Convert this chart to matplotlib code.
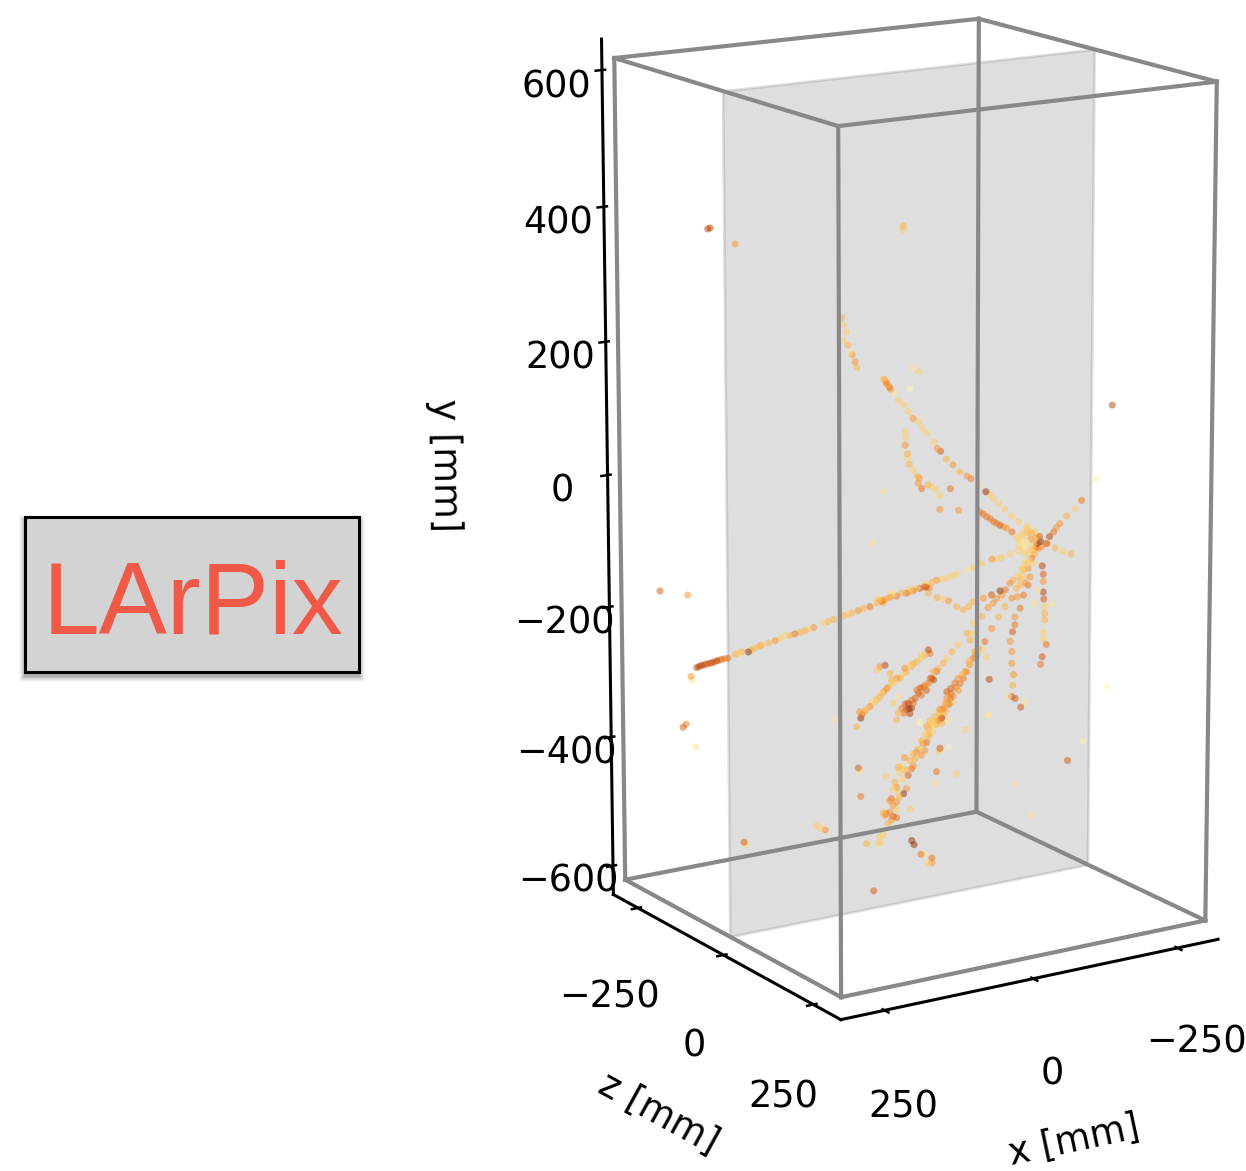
import numpy as np
import matplotlib
matplotlib.use('Agg')
import matplotlib.pyplot as plt
from matplotlib.patches import Rectangle
from mpl_toolkits.mplot3d.art3d import Poly3DCollection

W, H = 1246, 1171

# hits per track, x and y in mm, charge in tenths of the colour range
a_x = [327,323,319,315,311,306,302,298,294,290,286,280,275,263,255,252,241,236,230,222,219,207,196,188,179,171,163,154,146,140,131,114,106,97,80,72,66,55,46,35,23,18,15,6,0,-5,-11,-20,-28,-34,-40,-51,-63,-72,-80,-89,-98,-107,-115,-133,-144,-159,-177,-185,-194,-209,-224,20,11,12,-3,-34,-46,-60,-68]
a_y = [-227,-226,-225,-225,-224,-224,-224,-223,-222,-222,-221,-221,-221,-217,-216,-215,-217,-215,-213,-211,-210,-209,-207,-205,-202,-203,-202,-201,-200,-198,-197,-193,-192,-190,-187,-186,-185,-183,-181,-180,-176,-172,-175,-172,-171,-168,-171,-167,-169,-164,-167,-165,-165,-159,-157,-157,-156,-154,-153,-149,-147,-143,-139,-140,-139,-136,-133,-171,-174,-178,-165,-168,-164,-159,-167]
a_q = [8,8,8,7,8,7,8,7,8,6,7,6,6,4,3,4,9,4,4,4,4,4,5,3,3,4,6,4,4,3,5,3,4,4,4,3,4,5,4,6,4,4,6,4,5,3,6,4,6,3,6,7,7,4,5,3,3,3,3,2,3,3,5,3,3,3,3,3,5,4,2,4,3,3,5]
b_x = [60,56,51,54,49,44,36,27,19,11,2,-5,-12,-24,-30,-36,-46,-57,-69,-81,-88,-101,-114,-120,-127,-136,-147,-159,-171,-185]
b_y = [180,174,167,171,164,157,146,138,127,116,110,99,91,77,66,61,48,38,26,18,13,2,-10,-15,-22,-31,-41,-53,-63,-75]
b_q = [4,6,6,4,5,2,3,3,3,5,3,3,3,3,5,7,4,5,4,5,6,3,9,3,3,3,3,3,3,3]
c_x = [37,36,37,33,32,30,23,16,13,15,9,-2,-8,-15,-22,-40,-22,-54,74,92,14,29]
c_y = [104,95,84,71,65,55,45,35,32,25,16,20,16,11,1,9,-19,-25,21,-53,189,166]
c_q = [3,3,5,4,3,4,3,4,5,5,6,4,3,3,3,6,5,5,2,2,3,1]
d_x = [-110,-116,-122,-128,-134,-139,-145,-151,-157,-166]
d_y = [-42,-46,-51,-55,-60,-63,-67,-70,-73,-80]
d_q = [6,6,6,6,6,6,7,5,5,6]
e_x = [-181,-190,-199,-207,-216,-223,-210,-199,-193,-219,-205,-187,-213,-208,-196,-202,-203,-212,-186,-194,-217,-225,-184,-192,-199,-206,-213,-221,-209,-216,-202,-196,-190]
e_y = [-92,-88,-79,-90,-97,-105,-108,-102,-93,-115,-115,-100,-122,-128,-109,-120,-85,-100,-107,-118,-107,-113,-97,-106,-88,-99,-89,-97,-116,-112,-130,-134,-141]
e_q = [3,3,3,4,5,9,3,2,3,5,3,2,4,6,2,3,3,3,3,3,8,5,3,2,4,5,3,7,4,6,3,3,3]
f_x = [-214,-219,-226,-231,-237,-249,-263,-275]
f_y = [-100,-90,-84,-78,-73,-63,-54,-43]
f_q = [7,8,6,5,5,4,3,6]
g_x = [-214,-229,-243,-257]
g_y = [-100,-109,-116,-122]
g_q = [4,4,3,4]
h_x = [-213,-215,-215,-215,-216,-218,-218,-218,-216,-216,-221,-214,-211,-199,-230,-206]
h_y = [-136,-149,-160,-176,-187,-199,-209,-219,-237,-247,-257,-275,-286,-191,-197,-172]
h_q = [8,7,5,8,7,3,4,4,3,3,6,7,6,2,2,2]
i_x = [-204,-198,-195,-187,-181,-172,-172,-168,-164,-167,-167,-170,-169,-167,-173,-183,-191,-161,-176,-181,-190]
i_y = [-133,-153,-165,-179,-198,-210,-222,-232,-246,-262,-280,-298,-314,-331,-335,-350,-343,-330,-180,-163,-161]
i_q = [3,5,6,6,6,5,6,7,5,5,5,5,4,7,7,7,2,2,5,4,5]
j_x = [-193,-181,-173,-161,-150,-138,-126,-121,-129,-134,-112,-115,-109]
j_y = [-154,-170,-184,-195,-209,-225,-243,-255,-267,-302,-261,-252,-256]
j_q = [3,4,5,4,4,5,6,3,3,8,5,4,5]
k_x = [-194,-176,-159,-144,-130,-112,-104,-95,-83,-69,-60,-49,-34,-28,-147,-153,-162,-168,-182,-191,-200,-205,-208]
k_y = [-159,-164,-173,-177,-180,-183,-189,-192,-186,-175,-171,-167,-158,-148,-190,-184,-180,-173,-160,-154,-147,-138,-146]
k_q = [4,5,9,7,5,4,4,4,4,5,3,4,4,7,5,5,5,6,4,3,4,3,5]
l_x = [-151,-140,-125,-120,-122,-114,-99,-88,-79,-73,-64,-61,-56,-50,-56,-53,-47,-38,-44,-41,-30,-35,-33,-27,-18,-24,-12,-7,-9,-14,-18,-15,-21,5,-1,-5,8]
l_y = [-202,-214,-222,-247,-237,-236,-251,-260,-269,-275,-282,-286,-285,-295,-298,-295,-302,-306,-312,-304,-314,-318,-307,-309,-323,-321,-327,-327,-336,-335,-335,-343,-328,-339,-333,-341,-349]
l_q = [5,4,3,4,3,4,3,4,3,4,4,6,4,6,8,8,6,6,7,5,7,6,7,6,6,7,8,7,8,9,8,8,6,4,6,6,4]
m_x = [-122,-114,-111,-116,-108,-105,-102,-99,-96,-92,-90,-83,-76,-84,-96,-87,-76,-76,-82,-80,-73,-64,-70,-64,-55,-53,-61,-67,-48,-44,-41,-67,-58,-149,114]
m_y = [-274,-278,-293,-283,-292,-302,-296,-309,-301,-314,-307,-314,-318,-322,-319,-327,-328,-336,-329,-338,-335,-349,-343,-343,-353,-360,-359,-365,-362,-369,-365,-357,-366,-365,-330]
m_q = [6,4,5,5,5,6,4,6,5,5,6,7,7,6,5,5,5,5,6,6,4,4,6,5,4,3,5,4,3,4,4,8,3,2,2]
n_x = [-66,-69,-60,-54,-53,-46,-40,-37,-34,-28,-25,-20,-17,-11,-8,-5,-2,3,6,11,15,18,24,26,32,35,41,44,49,53,51,58,9,18,23,0,-14]
n_y = [-261,-267,-268,-267,-272,-276,-278,-282,-279,-289,-283,-292,-297,-296,-301,-303,-297,-307,-309,-313,-315,-320,-323,-326,-327,-332,-335,-338,-342,-337,-347,-359,-273,-274,-278,-287,-325]
n_q = [8,6,4,3,3,4,4,4,3,4,5,3,4,5,3,3,4,4,5,5,3,4,4,3,3,5,4,4,6,5,9,4,8,5,3,4,2]
o_x = [-90,-78,-81,-73,-64,-67,-61,-55,-50,-48,-47,-55,-41,-38,-35,-44,-41,-29,-26,-35,-21,-15,-24,-21,-6,-9,-18,-3,5,0,3,-3,-12,8,11,14,5,17,3,-4,-9,20,8,14,26,28,31,20,8,17,14,8,23,31,37,37,40,60]
o_y = [-338,-349,-364,-355,-349,-360,-366,-368,-360,-380,-384,-378,-379,-393,-388,-392,-404,-400,-404,-410,-406,-415,-414,-424,-409,-429,-428,-426,-422,-421,-430,-441,-437,-452,-444,-454,-460,-468,-468,-464,-457,-471,-475,-479,-490,-492,-488,-488,-487,-501,-496,-499,-505,-522,-523,-531,-534,-530]
o_q = [3,4,2,4,3,4,5,3,4,4,4,3,3,5,4,6,5,4,5,5,4,4,4,5,5,4,6,3,4,3,3,3,7,5,4,3,3,6,4,9,5,5,5,5,6,5,4,5,3,5,7,6,4,3,3,3,3,4]
p_x = [-12,-16,-28,-35,-47,-47,-41,54,80,78,76,33,-55,-90,-54,-61,-60,-76,-105,-9,274,272,152,146,137,-287,-192,-223,-146,20,-26]
p_y = [-535,-542,-559,-560,-568,-576,-575,-601,-408,-413,-452,-429,-436,-445,-454,-401,-406,-401,-380,-486,-488,-492,-484,-488,-493,-457,-478,-532,-364,-319,-356]
p_q = [9,9,6,2,6,5,3,7,7,2,6,3,6,3,2,7,3,1,3,3,7,2,3,3,5,7,2,2,2,3,1]
q_x = [15,15,118,116,111,116,108,101,96,93,105,46,0]
q_y = [395,389,273,262,251,240,232,217,206,197,221,173,185]
q_q = [4,3,4,3,3,3,4,5,5,4,2,4,2]
r_x = [246,250,205,278,289,294,299,335,283,285]
r_y = [391,390,363,-377,-146,-340,-344,-133,-275,-269]
r_q = [8,8,5,2,5,6,7,7,2,5]
s_x = [-246,-219,-241,-200]
s_y = [129,24,-292,-369]
s_q = [8,1,1,1]

track_x = [a_x,b_x,c_x,d_x,e_x,f_x,g_x,h_x,i_x,j_x,k_x,l_x,m_x,n_x,o_x,p_x,q_x,r_x,s_x]
track_y = [a_y,b_y,c_y,d_y,e_y,f_y,g_y,h_y,i_y,j_y,k_y,l_y,m_y,n_y,o_y,p_y,q_y,r_y,s_y]
track_q = [a_q,b_q,c_q,d_q,e_q,f_q,g_q,h_q,i_q,j_q,k_q,l_q,m_q,n_q,o_q,p_q,q_q,r_q,s_q]
track_z = [-60,20,40,10,0,30,30,20,10,0,-10,-30,-25,-60,-30,-20,0,-150,150]

box_x, box_z, box_y = 311, 307, 619
lim_x, lim_z, lim_y = 322, 324, 645
x_ticks = [-250, 0, 250]
z_ticks = [-250, 0, 250]
y_ticks = [-600, -400, -200, 0, 200, 400, 600]

plt.rcParams['font.family'] = 'DejaVu Sans'
for name in ['xtick', 'ytick']:
    plt.rcParams[name + '.major.width'] = 1.8

fig = plt.figure(figsize=(W/100, H/100), dpi=100)

# LArPix box with a soft shadow under it
for grow, alpha in [(6, 0.03), (5, 0.04), (4, 0.05), (3, 0.06), (2, 0.08), (1, 0.1)]:
    fig.add_artist(Rectangle(((25-grow)/W, 1-(672+grow+4)/H), (334+2*grow)/W, (155+2*grow)/H,
                             transform=fig.transFigure, fc='black', ec='none', alpha=alpha))
fig.add_artist(Rectangle((25/W, 1-672/H), 334/W, 155/H, transform=fig.transFigure,
                         fc='#d3d3d3', ec='black', lw=2.2))
fig.text(193/W, 1-633/H, 'LArPix', family='Liberation Sans', fontsize=73.5,
         color='#ef5a48', ha='center', va='baseline')

ax = fig.add_axes([0.29414747, 0.11337843, 0.85272424, 0.90733937], projection='3d')
ax.computed_zorder = False
ax.view_init(elev=14.5, azim=57.77)
ax.set_proj_type('persp', focal_length=0.988)
ax.set_xlim(-lim_x, lim_x, view_margin=0)
ax.set_ylim(-lim_z, lim_z, view_margin=0)
ax.set_zlim(-lim_y, lim_y, view_margin=0)
ax.set_box_aspect((lim_x, lim_z, lim_y))

# grey sheet at z=0
sheet = Poly3DCollection([[(box_x, 0, box_y), (-box_x, 0, box_y), (-box_x, 0, -box_y), (box_x, 0, -box_y)]],
                         facecolor=(0.5, 0.5, 0.5, 0.26), edgecolor=(0.5, 0.5, 0.5, 0.25), linewidth=2, zorder=1)
ax.add_collection3d(sheet)

all_x, all_y, all_z, all_q = [], [], [], []
for tx, ty, tq, tz in zip(track_x, track_y, track_q, track_z):
    all_x += tx
    all_y += ty
    all_q += tq
    all_z += [tz]*len(tx)
ax.scatter(all_x, all_z, all_y, c=all_q, cmap='YlOrBr', vmin=-0.5, vmax=10, s=26, alpha=0.5,
           linewidths=0, depthshade=False, zorder=3)

# grey box
corners = [(1, -1), (-1, -1), (-1, 1), (1, 1), (1, -1)]
for (s1, t1), (s2, t2) in zip(corners[:-1], corners[1:]):
    for side in (1, -1):
        ax.plot([s1*box_x, s2*box_x], [t1*box_z, t2*box_z], [side*box_y]*2, c='#888888', lw=3, zorder=5)
    ax.plot([s1*box_x]*2, [t1*box_z]*2, [-box_y, box_y], c='#888888', lw=3, zorder=5)

ax.grid(False)
for axis in (ax.xaxis, ax.yaxis, ax.zaxis):
    axis.set_pane_color((1, 1, 1, 0))
    axis.pane.set_edgecolor((1, 1, 1, 0))
    axis.line.set_color('black')
    axis.line.set_linewidth(2.2)
ax.set_xticks(x_ticks)
ax.set_yticks(z_ticks)
ax.set_zticks(y_ticks)
ax.tick_params(labelsize=26.4)
ax.tick_params(axis='x', pad=23)
ax.tick_params(axis='y', pad=23)
ax.tick_params(axis='z', pad=22)
ax.set_xlabel('x [mm]', fontsize=26.4, labelpad=44)
ax.set_ylabel('z [mm]', fontsize=26.4, labelpad=47)
ax.set_zlabel('y [mm]', fontsize=26.4, labelpad=88, rotation=270)

fig.savefig('out.png')
